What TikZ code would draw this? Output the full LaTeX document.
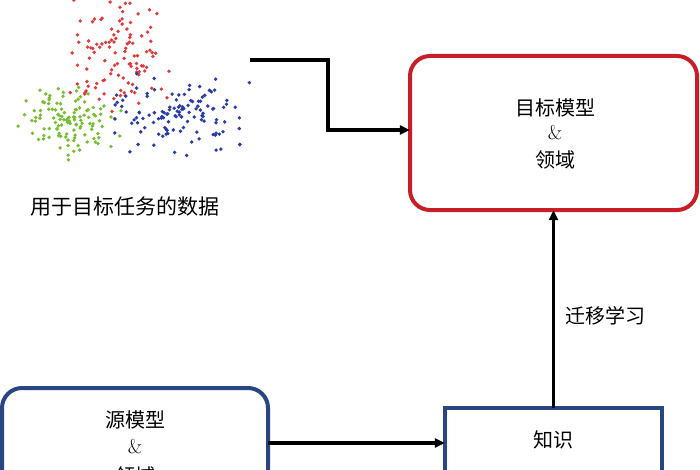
\documentclass[tikz,border=0pt]{standalone}
\usepackage{fontspec}
\newfontfamily\cjk{Noto Sans CJK SC}
\usetikzlibrary{arrows.meta}
\definecolor{boxred}{RGB}{200,30,40}
\definecolor{boxblue}{RGB}{40,70,130}
\definecolor{dred}{RGB}{225,60,60}
\definecolor{dgreen}{RGB}{120,190,50}
\definecolor{dblue}{RGB}{40,60,170}
\begin{document}
\begin{tikzpicture}[x=1pt,y=-1pt,
  lbl/.style={font=\cjk\fontsize{20}{23}\selectfont,align=center,inner sep=0pt},
  conn/.style={line width=3.2pt,-{Triangle[length=10pt,width=9pt]}},
  dot/.style={radius=1.9pt}]
\useasboundingbox (0,0) rectangle (700,470);
\clip (0,0) rectangle (700,470);
\pgfmathsetseed{11}
\foreach \i in {1,...,110}{
  \pgfmathsetmacro\a{118+28*(rand+rand)}\pgfmathsetmacro\b{52+35*(rand+rand)}
  \fill[dred] (\a,\b) circle[dot];}
\foreach \i in {1,...,120}{
  \pgfmathsetmacro\a{70+28*(rand+rand)}\pgfmathsetmacro\b{123+20*(rand+rand)}
  \fill[dgreen] (\a,\b) circle[dot];}
\foreach \i in {1,...,120}{
  \pgfmathsetmacro\a{180+40*(rand+rand)}\pgfmathsetmacro\b{115+22*(rand+rand)}
  \fill[dblue] (\a,\b) circle[dot];}
\node[lbl,font=\cjk\fontsize{21}{24}\selectfont] (data) at (125,207) {用于目标任务的数据};
\coordinate (ds) at (250,60);
\draw[boxred,line width=4pt,rounded corners=20pt] (410,56) rectangle (697,210);
\node (tgt) at (553.5,133) [minimum width=287pt,minimum height=154pt,inner sep=0pt] {};
\node[lbl] at (555,108) {目标模型};
\node[lbl,font=\fontsize{20}{23}\selectfont] at (555,133) {\&};
\node[lbl] at (555,160) {领域};
\draw[boxblue,line width=4pt,rounded corners=20pt] (2,388) rectangle (268,500);
\node (src) at (135,444) [minimum width=266pt,minimum height=112pt,inner sep=0pt] {};
\node[lbl] at (135,420) {源模型};
\node[lbl,font=\fontsize{20}{23}\selectfont] at (135,447) {\&};
\node[lbl] at (135,476) {领域};
\draw[boxblue,line width=4pt] (445,408) rectangle (662,500);
\node (kn) at (553.5,454) [minimum width=217pt,minimum height=92pt,inner sep=0pt] {};
\node[lbl] at (553,440) {知识};
\draw[conn] (ds) -- (328,60) -- (328,130) -- (tgt.west|-0,130);
\draw[conn] (src.east|-0,443) -- (kn.west|-0,443);
\draw[conn] (kn.north) -- (tgt.south);
\node[lbl] at (605,316) {迁移学习};
\end{tikzpicture}
\end{document}
